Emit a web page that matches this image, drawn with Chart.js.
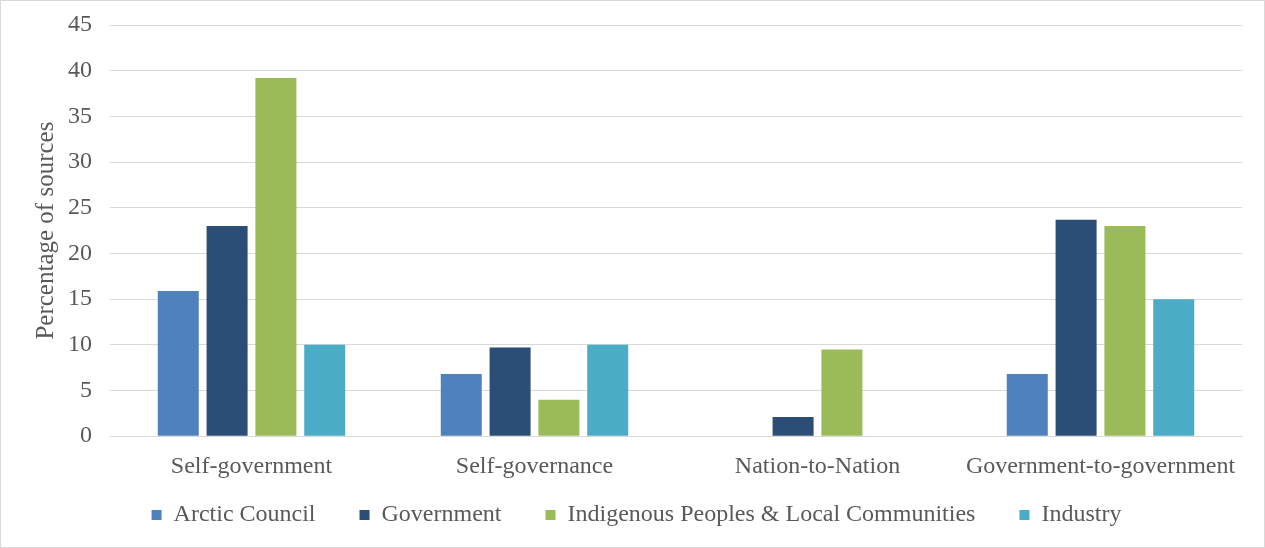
<!DOCTYPE html>
<html>
<head>
<meta charset="utf-8">
<script src="https://cdn.jsdelivr.net/npm/chart.js@4.4.0/dist/chart.umd.min.js"></script>
<style>
  html, body { margin: 0; padding: 0; background: #fff; }
  #wrap { width: 1263px; height: 546px; border: 1px solid #d9d9d9; position: relative; }
</style>
</head>
<body>
<div id="wrap"><canvas id="barChart"></canvas></div>
<script>
// categories and series
const categories = ["Self-government", "Self-governance", "Nation-to-Nation", "Government-to-government"];
const arcticCouncil = [15.9, 6.8, 0, 6.8];
const government = [23.0, 9.7, 2.1, 23.7];
const indigenous = [39.2, 4.0, 9.5, 23.0];
const industry = [10.0, 10.0, 0, 15.0];

const FONT = "'Liberation Serif', 'Times New Roman', serif";
const FONT_SIZE = 24;

function series(label, data, color) {
    return {
        label: label,
        data: data,
        backgroundColor: color,
        borderWidth: 0,
        barPercentage: 0.84,
        categoryPercentage: 0.69
    };
}

const CHART = document.getElementById("barChart");
let barChart = new Chart(CHART, {
    type: 'bar',
    data: {
        labels: categories,
        datasets: [
            series("Arctic Council", arcticCouncil, "#4F81BD"),
            series("Government", government, "#2C4D75"),
            series("Indigenous Peoples & Local Communities", indigenous, "#9BBB59"),
            series("Industry", industry, "#4BACC6")
        ]
    },
    options: {
        responsive: true,
        maintainAspectRatio: false,
        animation: false,
        layout: { padding: { top: 24, right: 22, left: 30, bottom: 10 } },
        plugins: {
            tooltip: { enabled: false },
            legend: {
                position: 'bottom',
                labels: {
                    font: { family: FONT, size: FONT_SIZE },
                    color: "#595959",
                    boxWidth: 10,
                    boxHeight: 10,
                    padding: 14,
                    // wider gap between items than the vertical padding allows
                    generateLabels: function(chart) {
                        const items = Chart.defaults.plugins.legend.labels.generateLabels(chart);
                        items.forEach(function(it, i) {
                            if (i < items.length - 1) it.text = it.text + "     ";
                        });
                        return items;
                    }
                }
            }
        },
        scales: {
            x: {
                grid: { display: false },
                border: { color: "#d9d9d9", width: 1 },
                ticks: { font: { family: FONT, size: FONT_SIZE }, color: "#595959", padding: 8, maxRotation: 0 }
            },
            y: {
                min: 0,
                max: 45,
                // top tick sits at the very top; axis title hugs the tick labels
                afterFit: function(scale) { scale.paddingTop = 0; scale.width -= 11; },
                ticks: { stepSize: 5, font: { family: FONT, size: FONT_SIZE }, color: "#595959", padding: 18 },
                grid: { color: "#d9d9d9", drawTicks: false },
                border: { display: false },
                title: {
                    display: true,
                    text: "Percentage of sources",
                    font: { family: FONT, size: 25 },
                    color: "#595959",
                    padding: 0
                }
            }
        }
    }
});
</script>
</body>
</html>
